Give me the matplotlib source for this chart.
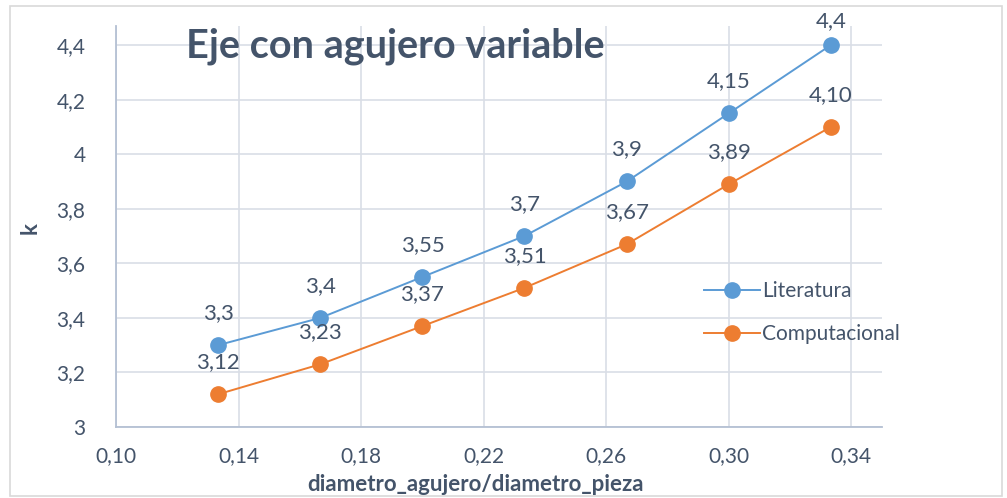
import matplotlib
matplotlib.use("Agg")
import matplotlib.pyplot as plt
from matplotlib.patches import Rectangle

# data
x_vals = [0.1333, 0.1667, 0.2000, 0.2333, 0.2667, 0.3000, 0.3333]
literatura = [3.3, 3.4, 3.55, 3.7, 3.9, 4.15, 4.4]
computacional = [3.12, 3.23, 3.37, 3.51, 3.67, 3.89, 4.10]
lit_labels = ["3,3", "3,4", "3,55", "3,7", "3,9", "4,15", "4,4"]
comp_labels = ["3,12", "3,23", "3,37", "3,51", "3,67", "3,89", "4,10"]
x_ticks = [0.10, 0.14, 0.18, 0.22, 0.26, 0.30, 0.34]
y_ticks = [3.0, 3.2, 3.4, 3.6, 3.8, 4.0, 4.2, 4.4]

txt = "#44546A"
blue = "#5B9BD5"
orange = "#ED7D31"
grid = "#D9DEE6"

plt.rcParams['font.family'] = ['Lato', 'DejaVu Sans']

fig = plt.figure(figsize=(10.07, 4.98), dpi=100)
fig.patches.append(Rectangle((10 / 1007, 2 / 498), 992 / 1007, 490 / 498,
                             transform=fig.transFigure, fill=False,
                             edgecolor="#D9D9D9", linewidth=1.2))
ax = fig.add_axes([116 / 1007, 1 - 427 / 498, 766 / 1007, 401 / 498])

ax.plot(x_vals, literatura, color=blue, lw=1.4, marker="o", ms=11,
        mec=blue, mfc=blue, label="Literatura", zorder=3)
ax.plot(x_vals, computacional, color=orange, lw=1.4, marker="o", ms=11,
        mec=orange, mfc=orange, label="Computacional", zorder=3)

for i, (x, y, s) in enumerate(zip(x_vals, literatura, lit_labels)):
    off = 10 if i == len(x_vals) - 1 else 16
    ax.annotate(s, (x, y), xytext=(0, off), textcoords="offset points",
                ha="center", va="bottom", fontsize=16, color=txt)
for x, y, s in zip(x_vals, computacional, comp_labels):
    ax.annotate(s, (x, y), xytext=(0, 16), textcoords="offset points",
                ha="center", va="bottom", fontsize=16, color=txt)

ax.set_xlim(0.10, 0.35)
ax.set_ylim(3.0, 4.47)
ax.set_xticks(x_ticks)
ax.set_xticklabels([f"{v:.2f}".replace(".", ",") for v in x_ticks])
ax.set_yticks(y_ticks)
ax.set_yticklabels([f"{v:g}".replace(".", ",") for v in y_ticks])
ax.tick_params(length=0, labelsize=15, colors=txt, pad=14)
ax.tick_params(axis="y", pad=22)
ax.grid(True, color=grid, lw=1.2, zorder=0)
ax.set_axisbelow(True)
for side in ["top", "right"]:
    ax.spines[side].set_visible(False)
ax.spines["left"].set_color("#B4C0D3")
ax.spines["bottom"].set_color("#B4C0D3")
ax.spines["left"].set_linewidth(1.3)
ax.spines["bottom"].set_linewidth(1.3)

ax.set_xlabel("diametro_agujero/diametro_pieza", fontsize=16, fontweight="bold",
              color=txt, va="center")
ax.xaxis.set_label_coords((476 - 116) / 766, -(484 - 427) / 401)
ax.set_ylabel("k", fontsize=16, fontweight="bold", color=txt, va="center")
ax.yaxis.set_label_coords(-(116 - 30) / 766, (427 - 228) / 401)

fig.text(395 / 1007, 1 - 46 / 498, "Eje con agujero variable", ha="center",
         va="center", fontsize=28.5, fontweight="bold", color=txt)

leg = ax.legend(loc="center left", bbox_to_anchor=(0.743, 0.285), frameon=False,
                fontsize=15, labelcolor=txt, handlelength=2.7, labelspacing=1.1,
                handletextpad=0.1, markerscale=1.0)

fig.savefig("out.png", dpi=100)
